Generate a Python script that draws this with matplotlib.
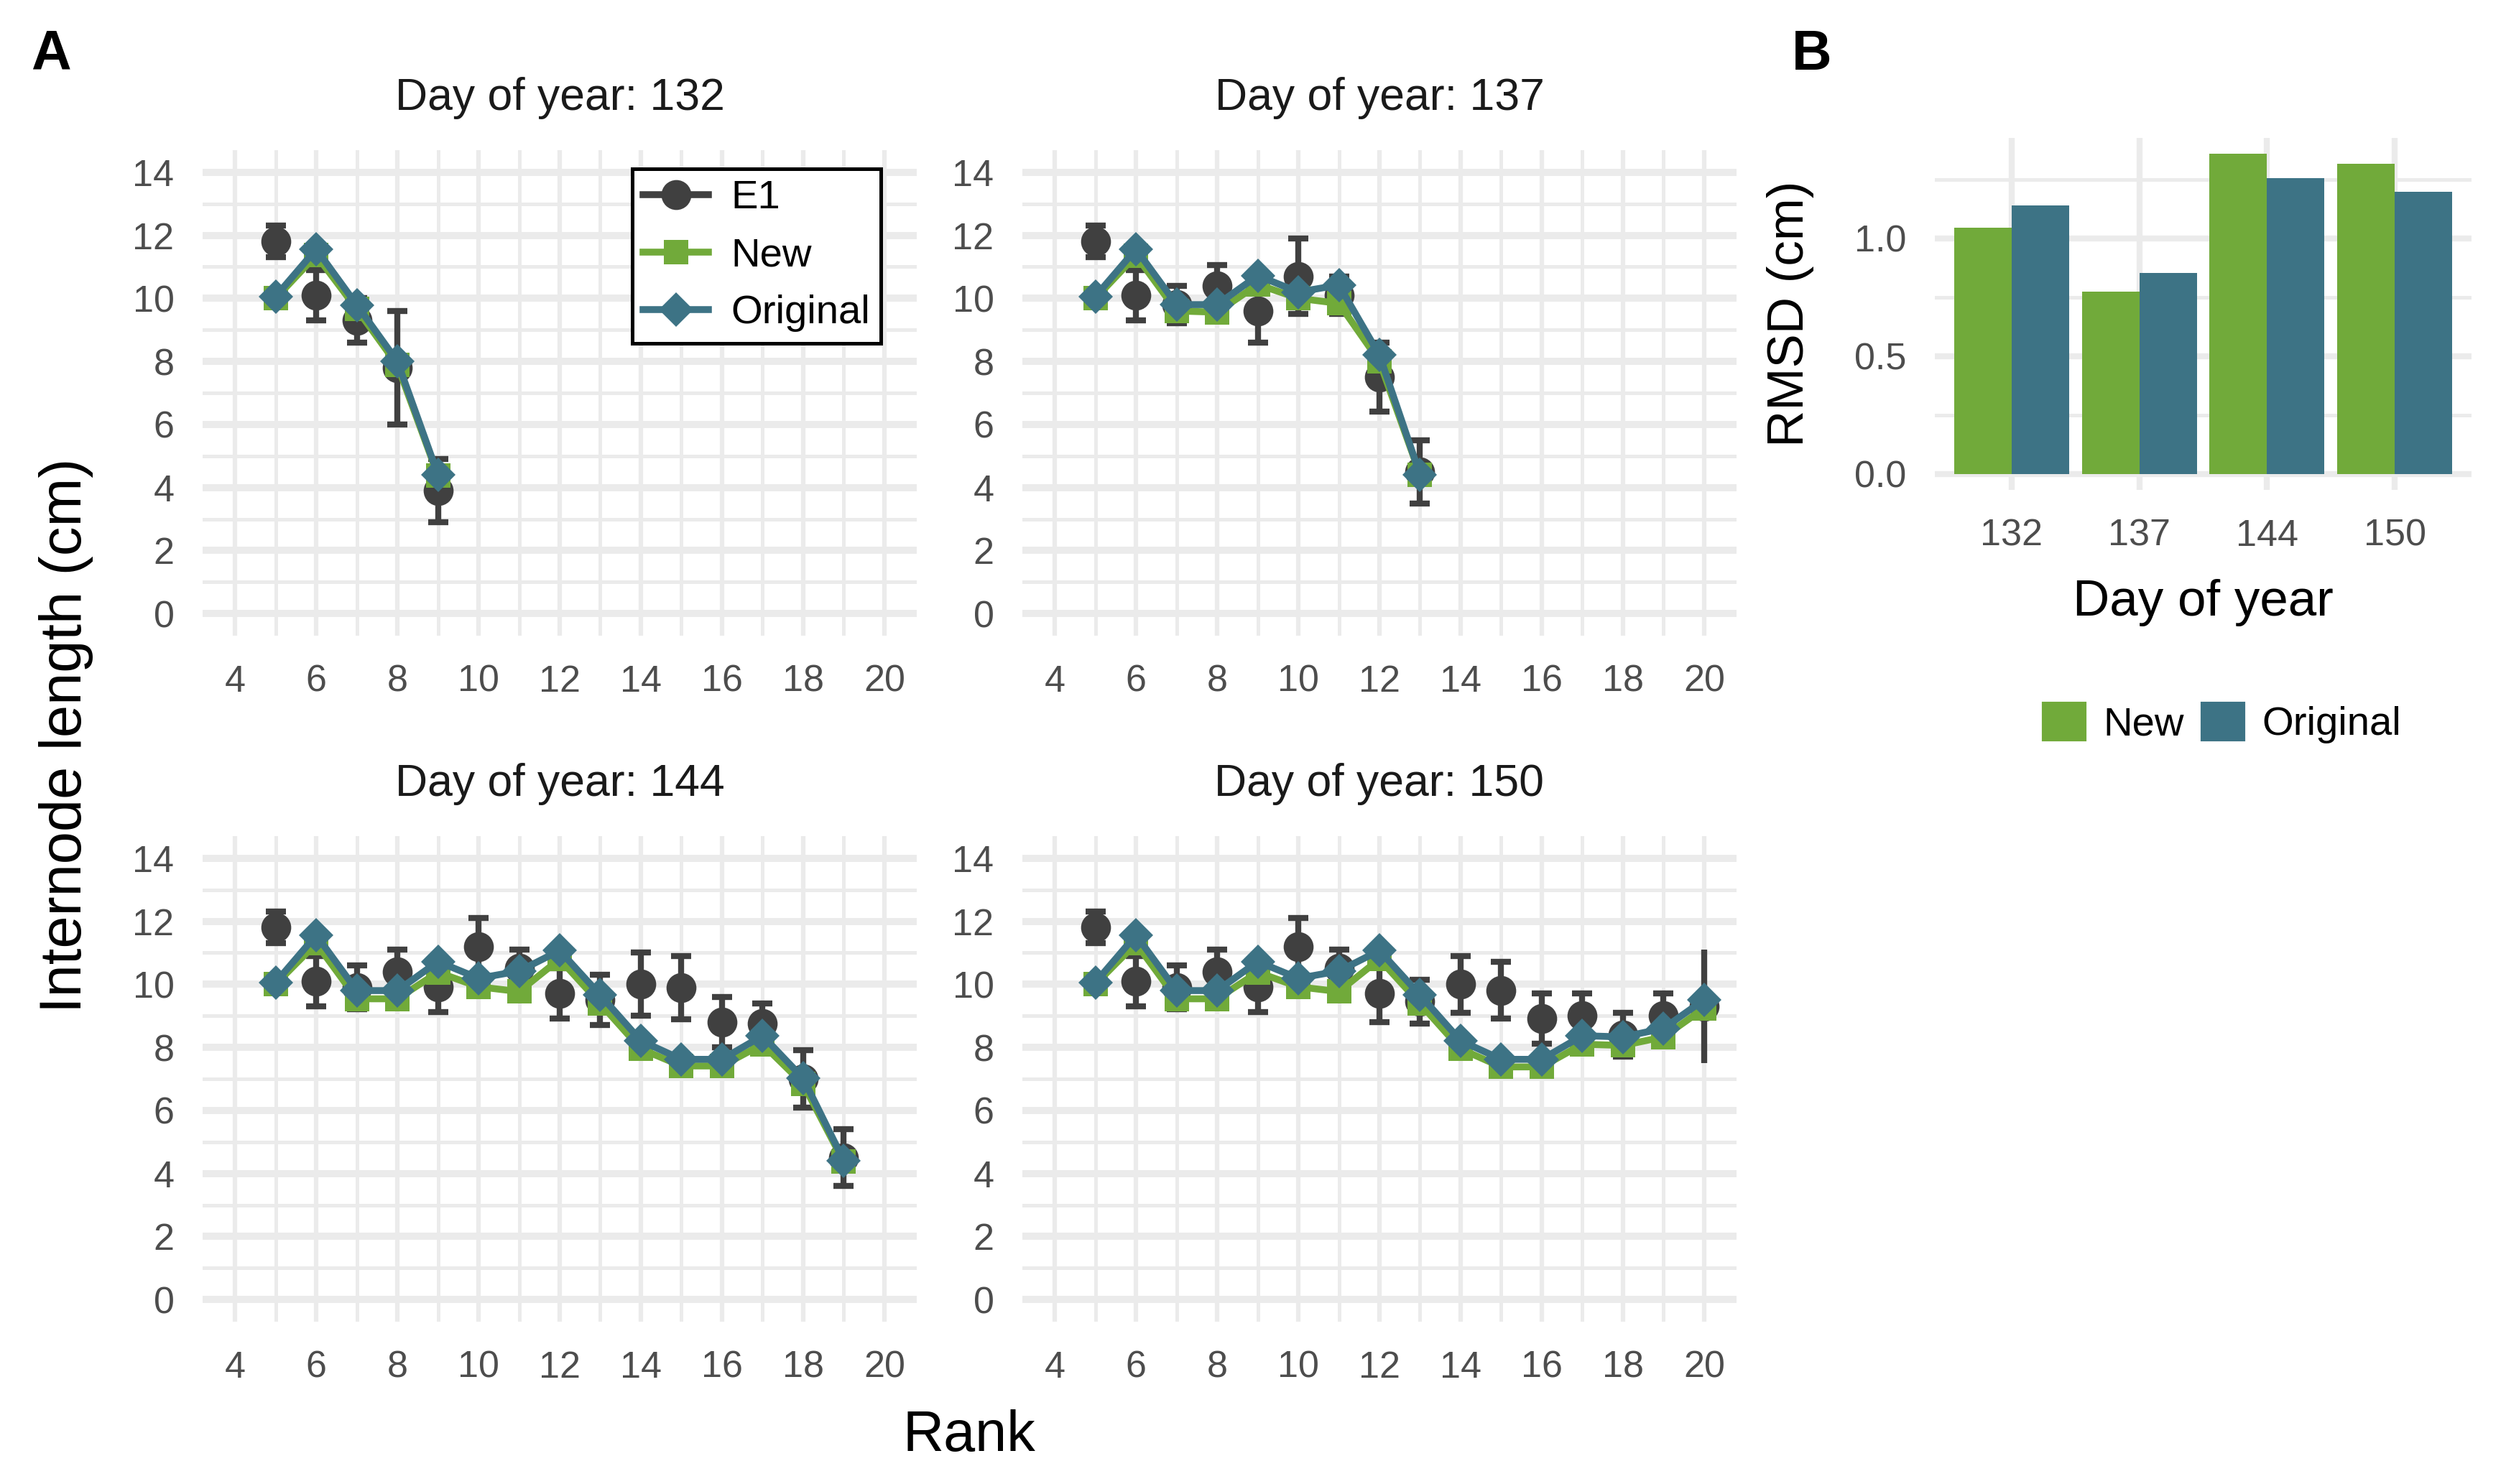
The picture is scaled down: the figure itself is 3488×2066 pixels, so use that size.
import matplotlib

matplotlib.use("Agg")
import matplotlib.pyplot as plt
import numpy as np
from matplotlib.lines import Line2D
from matplotlib.patches import Patch

plt.rcParams["font.family"] = ["Liberation Sans", "DejaVu Sans"]

W, H, DPI = 3488, 2066, 300

DARK = "#404040"
GREEN = "#71AA3A"
TEAL = "#3D7385"
GRID = "#EBEBEB"
TICK = "#4D4D4D"

# panel A: internode length per rank, one facet per day of year
RANKS_132 = [5, 6, 7, 8, 9]
E1_132 = [11.8, 10.1, 9.3, 7.8, 3.9]
E1_SD_132 = [0.5, 0.8, 0.7, 1.8, 1.0]
NEW_132 = [10.0, 11.37, 9.66, 7.88, 4.38]
ORIG_132 = [10.06, 11.56, 9.79, 8.0, 4.41]

RANKS_137 = [5, 6, 7, 8, 9, 10, 11, 12, 13]
E1_137 = [11.8, 10.1, 9.8, 10.4, 9.6, 10.7, 10.1, 7.5, 4.5]
E1_SD_137 = [0.5, 0.8, 0.6, 0.66, 1.0, 1.2, 0.6, 1.1, 1.0]
NEW_137 = [10.0, 11.36, 9.6, 9.56, 10.44, 10.0, 9.84, 8.0, 4.41]
ORIG_137 = [10.06, 11.56, 9.8, 9.8, 10.72, 10.2, 10.42, 8.2, 4.41]

RANKS_144 = list(range(5, 20))
E1_144 = [11.8, 10.1, 9.9, 10.4, 9.92, 11.2, 10.5, 9.71, 9.5, 10.0, 9.9,
          8.8, 8.75, 7.0, 4.5]
E1_SD_144 = [0.5, 0.8, 0.7, 0.7, 0.8, 0.9, 0.6, 0.8, 0.8, 1.0, 1.0,
             0.8, 0.65, 0.9, 0.9]
NEW_144 = [10.0, 11.3, 9.54, 9.54, 10.38, 9.92, 9.77, 10.8, 9.39, 7.95, 7.41,
           7.41, 8.1, 6.84, 4.37]
ORIG_144 = [10.06, 11.56, 9.8, 9.8, 10.72, 10.19, 10.42, 11.07, 9.66, 8.21,
            7.62, 7.62, 8.37, 7.02, 4.41]

RANKS_150 = list(range(5, 21))
E1_150 = [11.8, 10.1, 9.9, 10.4, 9.92, 11.2, 10.5, 9.71, 9.45, 10.0, 9.81,
          8.91, 9.0, 8.4, 9.0, 9.3]
E1_SD_150 = [0.5, 0.8, 0.7, 0.7, 0.8, 0.9, 0.6, 0.9, 0.7, 0.9, 0.9,
             0.8, 0.7, 0.7, 0.7, 1.8]
NEW_150 = [10.0, 11.3, 9.54, 9.54, 10.38, 9.92, 9.77, 10.8, 9.39, 7.95, 7.38,
           7.38, 8.1, 8.06, 8.33, 9.24]
ORIG_150 = [10.06, 11.56, 9.8, 9.8, 10.72, 10.19, 10.42, 11.07, 9.66, 8.21,
            7.62, 7.62, 8.37, 8.33, 8.6, 9.51]
NOCAP_150 = [20]  # last E1 bar is drawn without caps

# panel B: RMSD per day
DAYS = ["132", "137", "144", "150"]
RMSD_NEW = [1.045, 0.772, 1.358, 1.315]
RMSD_ORIG = [1.140, 0.854, 1.255, 1.197]

LW = 2.3
MS_DIAMOND = 8.2
MS_SQUARE = 8.0
MS_CIRCLE = 9.0


def px_axes(fig, left, top, right, bottom):
    return fig.add_axes([left / W, 1 - bottom / H, (right - left) / W,
                         (bottom - top) / H])


def style_facet(ax):
    ax.set_xlim(3.2, 20.8)
    ax.set_ylim(-0.7, 14.7)
    ax.set_xticks(np.arange(4, 21, 2))
    ax.set_xticks(np.arange(5, 20, 2), minor=True)
    ax.set_yticks(np.arange(0, 15, 2))
    ax.set_yticks(np.arange(1, 14, 2), minor=True)
    ax.grid(axis="y", which="major", color=GRID, lw=2.4)
    ax.grid(axis="y", which="minor", color=GRID, lw=1.2)
    ax.grid(axis="x", which="major", color=GRID, lw=1.5)
    ax.grid(axis="x", which="minor", color=GRID, lw=1.2)
    ax.set_axisbelow(True)
    for s in ax.spines.values():
        s.set_visible(False)
    ax.tick_params(which="both", length=0, labelsize=12.5, labelcolor=TICK,
                   pad=9.5)


def draw_facet(ax, day, ranks, e1, sd, new, orig, nocap=()):
    ranks = np.array(ranks)
    e1 = np.array(e1)
    sd = np.array(sd)
    cap = ~np.isin(ranks, nocap)
    ax.errorbar(ranks[cap], e1[cap], yerr=sd[cap], fmt="o", ms=MS_CIRCLE,
                color=DARK, elinewidth=2, capsize=3.4, capthick=2, zorder=2)
    if (~cap).any():
        ax.errorbar(ranks[~cap], e1[~cap], yerr=sd[~cap], fmt="o",
                    ms=MS_CIRCLE, color=DARK, elinewidth=2, capsize=0,
                    zorder=2)
    ax.plot(ranks, new, color=GREEN, lw=LW, marker="s", ms=MS_SQUARE, mew=0,
            zorder=3)
    ax.plot(ranks, orig, color=TEAL, lw=LW, marker="D", ms=MS_DIAMOND, mew=0,
            zorder=4)
    style_facet(ax)
    ax.set_title(f"Day of year: {day}", fontsize=15, color="#1A1A1A", pad=13.4)


def main():
    fig = plt.figure(figsize=(W / DPI, H / DPI), dpi=DPI)

    ax1 = px_axes(fig, 282, 209, 1276, 885)
    ax2 = px_axes(fig, 1423, 209, 2417, 885)
    ax3 = px_axes(fig, 282, 1164, 1276, 1840)
    ax4 = px_axes(fig, 1423, 1164, 2417, 1840)

    draw_facet(ax1, 132, RANKS_132, E1_132, E1_SD_132, NEW_132, ORIG_132)
    draw_facet(ax2, 137, RANKS_137, E1_137, E1_SD_137, NEW_137, ORIG_137)
    draw_facet(ax3, 144, RANKS_144, E1_144, E1_SD_144, NEW_144, ORIG_144)
    draw_facet(ax4, 150, RANKS_150, E1_150, E1_SD_150, NEW_150, ORIG_150,
               NOCAP_150)

    handles = [
        Line2D([], [], color=DARK, lw=LW, marker="o", ms=MS_CIRCLE),
        Line2D([], [], color=GREEN, lw=LW, marker="s", ms=MS_SQUARE, mew=0),
        Line2D([], [], color=TEAL, lw=LW, marker="D", ms=MS_DIAMOND, mew=0),
    ]
    leg = ax1.legend(handles, ["E1", "New", "Original"], loc="upper left",
                     bbox_to_anchor=(880 / W, 1 - 235 / H),
                     bbox_transform=fig.transFigure, fontsize=13.5,
                     handlelength=1.62, handletextpad=0.55, labelspacing=0.5,
                     borderpad=0.27, borderaxespad=0, fancybox=False,
                     edgecolor="black", framealpha=1)
    leg.get_frame().set_linewidth(1.2)

    fig.text(92 / W, 1 - 1024 / H, "Internode length (cm)", rotation=90,
             ha="center", va="center", fontsize=19.5)
    fig.text(1349 / W, 1 - 2020 / H, "Rank", ha="center", va="baseline",
             fontsize=19)

    # panel B
    axb = px_axes(fig, 2693, 192, 3440, 682)
    x = np.arange(len(DAYS))
    axb.bar(x - 0.225, RMSD_NEW, width=0.45, color=GREEN, label="New")
    axb.bar(x + 0.225, RMSD_ORIG, width=0.45, color=TEAL, label="Original")
    axb.set_xlim(-0.6, len(DAYS) - 0.4)
    top = max(max(RMSD_NEW), max(RMSD_ORIG))
    axb.set_ylim(-0.05 * top, 1.05 * top)
    axb.set_xticks(x)
    axb.set_xticklabels(DAYS)
    axb.set_yticks([0.0, 0.5, 1.0])
    axb.set_yticklabels(["0.0", "0.5", "1.0"])
    axb.set_yticks([0.25, 0.75, 1.25], minor=True)
    axb.grid(axis="y", which="major", color=GRID, lw=2.0)
    axb.grid(axis="y", which="minor", color=GRID, lw=1.2)
    axb.grid(axis="x", which="major", color=GRID, lw=2.0)
    axb.set_axisbelow(True)
    for s in axb.spines.values():
        s.set_visible(False)
    axb.tick_params(which="both", length=0, labelsize=12.5, labelcolor=TICK,
                    pad=9.5)
    fig.text(2492 / W, 1 - 437 / H, "RMSD (cm)", rotation=90, ha="center",
             va="center", fontsize=17)
    fig.text(3066 / W, 1 - 857 / H, "Day of year", ha="center",
             va="baseline", fontsize=17)
    fig.legend(handles=[Patch(color=GREEN), Patch(color=TEAL)],
               labels=["New", "Original"], loc="center",
               bbox_to_anchor=(3093 / W, 1 - 1007 / H), ncol=2, frameon=False,
               fontsize=13.5, handlelength=1.03, handleheight=1.03,
               handletextpad=0.46, columnspacing=0.44, borderpad=0)

    fig.text(43 / W, 1 - 97 / H, "A", ha="left", va="baseline",
             fontsize=18.5, fontweight="bold")
    fig.text(2494 / W, 1 - 97 / H, "B", ha="left", va="baseline",
             fontsize=18.5, fontweight="bold")

    fig.savefig("out.png", dpi=DPI)
    plt.close(fig)


if __name__ == "__main__":
    main()
